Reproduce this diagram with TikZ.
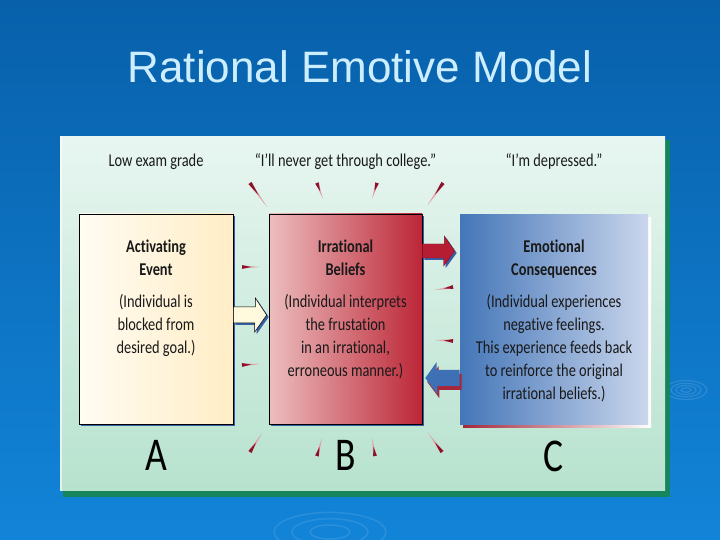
\documentclass[tikz,border=0pt]{standalone}
\usepackage{fontspec}
\usetikzlibrary{positioning,calc,shadows}
\newfontfamily\titlefont{Liberation Sans}
\newfontfamily\boxfont[FakeStretch=0.8, Ligatures=NoCommon]{Carlito}
\definecolor{bgtop}{RGB}{8,96,170}
\definecolor{bgbottom}{RGB}{18,132,216}
\definecolor{titlecyan}{RGB}{205,238,255}
\definecolor{paneltop}{RGB}{232,246,241}
\definecolor{panelbottom}{RGB}{183,226,206}
\definecolor{panelgreen}{RGB}{22,132,92}
\definecolor{aleft}{RGB}{255,252,242}
\definecolor{aright}{RGB}{255,237,198}
\definecolor{bleft}{RGB}{236,190,190}
\definecolor{bright}{RGB}{188,38,55}
\definecolor{cleft}{RGB}{68,118,184}
\definecolor{cright}{RGB}{202,214,236}
\definecolor{shadowblue}{RGB}{55,95,165}
\definecolor{shadowred}{RGB}{165,40,60}
\definecolor{arrowcream}{RGB}{255,249,222}
\definecolor{arrowred}{RGB}{182,28,50}
\definecolor{arrowblue}{RGB}{62,112,182}
\definecolor{ticklight}{RGB}{224,160,168}
\definecolor{tickdark}{RGB}{140,18,42}

\tikzset{
  box/.style={minimum height=210pt, inner sep=0pt, draw=black, line width=0.6pt},
  blueshadow/.style={drop shadow={shadow xshift=2pt, shadow yshift=-2pt, fill=shadowblue, opacity=1}},
  boxtext/.style={font=\boxfont\fontsize{18}{23}\selectfont, text=black!90, align=center, inner sep=0pt, anchor=north},
  toplab/.style={font=\boxfont\fontsize{18}{20}\selectfont, text=black!90, inner sep=0pt, anchor=base},
  letter/.style={font=\boxfont\fontsize{47}{47}\selectfont, inner sep=0pt},
  arrowab/.style={fill=arrowcream, draw=black, line width=0.5pt, blueshadow},
  arrowbc/.style={fill=arrowred, draw=arrowred!70!black, line width=0.4pt, blueshadow},
  arrowcb/.style={fill=arrowblue, draw=none, drop shadow={shadow xshift=2pt, shadow yshift=-4pt, fill=shadowred, opacity=1}}
}

\begin{document}
\begin{tikzpicture}[x=1pt,y=1pt]
\useasboundingbox (0,0) rectangle (720,540);
% background
\shade[top color=bgtop, bottom color=bgbottom] (0,0) rectangle (720,540);
\foreach \r in {5,10,15,21}
  \draw[white, opacity=0.12, line width=1.2pt] (686,150) ellipse ({\r} and {0.45*\r});
\foreach \r in {20,38,56}
  \draw[white, opacity=0.10, line width=1.5pt] (330,8) ellipse ({\r} and {0.35*\r});
\node[font=\titlefont\fontsize{44}{44}\selectfont, text=titlecyan, anchor=base] (title) at (360,457) {Rational Emotive Model};

% panel
\fill[panelgreen] (63,43) rectangle (670,400);
\shade[top color=paneltop, bottom color=panelbottom] (60,49) rectangle (665,403);
\fill[white, opacity=0.6] (60,49) rectangle (62,403);

% boxes
\node[box, minimum width=154pt, left color=aleft, right color=aright, blueshadow] (A) at (156,221) {};
\node[box, minimum width=153pt, left color=bleft, right color=bright, blueshadow] (B) at (345.5,221) {};
\node[box, draw=none, minimum width=188pt, left color=cleft, right color=cright,
  drop shadow={shadow xshift=3pt, shadow yshift=-3pt, left color=shadowred, right color=white, opacity=1}] (C) at (554,220) {};

\node[boxtext] (Atext) at ([yshift=-26pt]A.north) {{\bfseries Activating}\\{\bfseries Event}\\[9pt](Individual is\\blocked from\\desired goal.)};
\node[boxtext] (Btext) at ([yshift=-26pt]B.north) {{\bfseries Irrational}\\{\bfseries Beliefs}\\[9pt](Individual interprets\\the frustation\\in an irrational,\\erroneous manner.)};
\node[boxtext] (Ctext) at ([yshift=-25pt]C.north) {{\bfseries Emotional}\\{\bfseries Consequences}\\[9pt](Individual experiences\\negative feelings.\\This experience feeds back\\to reinforce the original\\irrational beliefs.)};

% labels above and below
\node[toplab] (Atop) at (A.north |- 0,373) {Low exam grade};
\node[toplab] (Btop) at (B.north |- 0,373) {“I’ll never get through college.”};
\node[toplab] (Ctop) at (C.north |- 0,373) {“I’m depressed.”};
\node[letter] (Alet) at ([yshift=-31pt]A.south) {A};
\node[letter] (Blet) at ([yshift=-31pt]B.south) {B};
\node[letter] (Clet) at ([yshift=-31pt]C.south) {C};

% block arrows
\filldraw[arrowab] ([yshift=12pt]A.east) -- ++(22,0) -- ++(0,9) -- ([xshift=-2pt,yshift=4pt]B.west)
  -- ++(-12,-17) -- ++(0,9) -- ([yshift=-4pt]A.east) -- cycle;
\filldraw[arrowbc] ([yshift=75pt]B.east) -- ++(22,0) -- ++(0,8) -- ([xshift=-5pt,yshift=69pt]C.west)
  -- ++(-11,-15) -- ++(0,8) -- ([yshift=61pt]B.east) -- cycle;
\fill[arrowcb] ([yshift=-50pt]C.west) -- ++(-23,0) -- ++(0,8) -- ([xshift=3pt,yshift=-59pt]B.east)
  -- ++(12,-16) -- ++(0,8) -- ([yshift=-66pt]C.west) -- cycle;

% ticks round B
\foreach \ox/\oy/\ix/\iy in {250/357/267/333, 317/357/323/341, 377/357/372/341, 443/357/427/334,
    242/273/260/273, 453/253/435/250, 242/175/260/176, 453/199/435/200,
    250/88/262/107, 317/84/322/102, 375/84/372/102, 442/88/428/107} {
  \fill[ticklight] ($(\ox,\oy)!1.6pt!90:(\ix,\iy)$) -- ($(\ox,\oy)!1.6pt!-90:(\ix,\iy)$) -- (\ix,\iy) -- cycle;
  \fill[tickdark] ($(\ox,\oy)!1.9pt!90:(\ix,\iy)$) -- ($(\ox,\oy)!1.9pt!-90:(\ix,\iy)$) -- ($(\ox,\oy)!0.5!(\ix,\iy)$) -- cycle;
}
\end{tikzpicture}
\end{document}
